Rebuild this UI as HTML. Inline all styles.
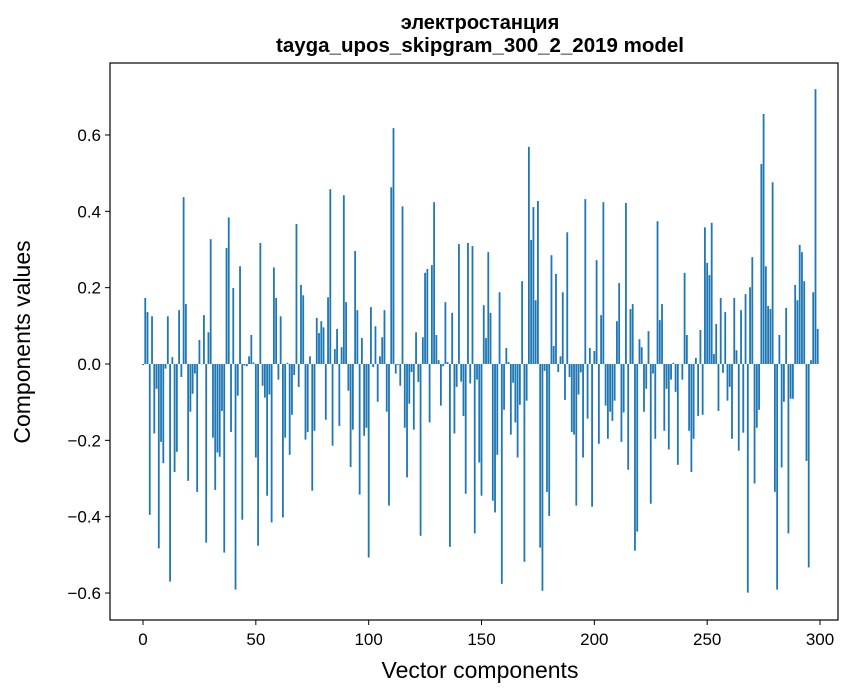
<!DOCTYPE html>
<html><head><meta charset="utf-8"><style>
body{margin:0;background:#fff;}
svg{display:block;font-family:"Liberation Sans","DejaVu Sans",sans-serif;}
</style></head><body>
<svg id="chart" width="867" height="696" viewBox="0 0 867 696" xmlns="http://www.w3.org/2000/svg">
<text x="480" y="29" text-anchor="middle" font-size="20" font-weight="bold">электростанция</text>
<text x="480" y="52" text-anchor="middle" font-size="20.5" font-weight="bold">tayga_upos_skipgram_300_2_2019 model</text>
<g id="bars"></g>
<g id="axes"></g>
<rect x="110" y="63" width="728" height="557" fill="none" stroke="#000" stroke-width="1.2"/>
<text x="480" y="678" text-anchor="middle" font-size="23">Vector components</text>
<text transform="translate(30,342) rotate(-90)" text-anchor="middle" font-size="23">Components values</text>
</svg>
<script>
const values = [-0.003,0.173,0.136,-0.395,0.125,-0.182,-0.065,-0.483,-0.204,-0.26,
-0.012,0.125,-0.57,0.018,-0.283,-0.23,0.141,-0.034,0.437,0.157,
-0.306,-0.125,-0.078,-0.025,-0.335,0.063,0.0,0.128,-0.468,0.083,
0.327,-0.193,-0.33,-0.232,-0.243,-0.123,-0.494,0.304,0.384,-0.178,
0.199,-0.591,-0.083,0.256,-0.408,-0.004,-0.006,0.02,0.076,0.004,
-0.245,-0.476,0.317,-0.057,-0.088,-0.345,-0.08,-0.415,0.253,0.173,
-0.041,0.125,-0.402,-0.193,0.003,-0.238,-0.133,-0.029,0.367,-0.06,
0.207,0.18,-0.198,-0.178,0.02,-0.332,-0.175,0.121,0.081,0.112,
0.096,-0.146,0.175,0.458,-0.214,0.039,0.092,-0.162,0.044,0.442,
0.162,-0.07,-0.27,-0.172,0.296,0.141,-0.342,0.068,-0.188,-0.167,
-0.507,0.149,-0.008,0.099,-0.099,0.02,0.07,0.141,-0.125,-0.371,
0.463,0.618,-0.025,-0.002,-0.057,0.413,-0.167,-0.297,-0.104,-0.021,
-0.172,0.083,-0.047,-0.45,0.07,0.239,0.249,-0.153,0.259,0.424,
0.076,0.01,-0.109,-0.006,0.162,0.005,-0.479,0.134,-0.182,-0.06,
0.314,-0.046,-0.136,-0.34,0.317,-0.051,0.309,-0.444,-0.041,-0.258,
-0.345,0.154,0.068,0.293,0.134,-0.358,-0.389,-0.238,0.188,-0.576,
-0.12,0.042,0.005,-0.185,-0.049,-0.153,-0.245,-0.107,0.217,-0.518,
-0.096,0.569,0.325,0.411,0.167,0.427,-0.481,-0.594,-0.018,-0.335,
-0.398,0.285,0.047,0.236,-0.021,0.02,0.188,-0.094,0.345,-0.034,
-0.178,-0.185,-0.371,-0.08,-0.022,-0.245,0.432,-0.143,0.042,-0.374,
0.034,0.272,-0.209,0.128,0.424,-0.109,-0.196,-0.125,-0.149,-0.096,
0.112,0.212,-0.204,-0.127,0.422,-0.277,0.144,0.157,-0.489,-0.439,
0.065,0.044,-0.125,-0.065,0.086,-0.366,-0.025,-0.196,0.374,0.115,
0.157,-0.175,-0.065,-0.224,-0.041,0.003,-0.073,-0.264,0.0,-0.041,
0.239,0.076,-0.175,-0.283,-0.196,0.016,-0.136,0.089,-0.133,0.358,
0.265,0.233,0.37,0.026,0.105,-0.123,0.173,-0.023,0.136,-0.096,
-0.06,-0.196,0.173,0.036,-0.227,0.141,-0.18,0.183,-0.599,0.201,
0.28,-0.313,-0.167,-0.12,0.524,0.655,0.256,0.152,0.144,0.476,
-0.335,-0.591,0.076,-0.271,-0.099,0.147,-0.444,-0.091,-0.091,0.207,
0.167,0.312,0.293,0.217,-0.254,-0.533,0.01,0.188,0.72,0.092];
const xTicks = [0,50,100,150,200,250,300];
const yTicks = [-0.6,-0.4,-0.2,0.0,0.2,0.4,0.6];
const yTickLabels = ["\u22120.6","\u22120.4","\u22120.2","0.0","0.2","0.4","0.6"];

const NS = "http://www.w3.org/2000/svg";
function xScale(v){ return 143 + v * 2.2567; }
function yScale(v){ return 364 - v * 381.7; }
const barsG = document.getElementById('bars');
values.forEach(function(v, i){
  const r = document.createElementNS(NS, 'rect');
  const x0 = xScale(i - 0.4), x1 = xScale(i + 0.4);
  const y0 = Math.min(yScale(v), yScale(0)), y1 = Math.max(yScale(v), yScale(0));
  r.setAttribute('x', x0);
  r.setAttribute('width', x1 - x0);
  r.setAttribute('y', y0);
  r.setAttribute('height', Math.max(y1 - y0, 0.3));
  r.setAttribute('fill', '#1f77b4');
  
  
  barsG.appendChild(r);
});
const axesG = document.getElementById('axes');
xTicks.forEach(function(t){
  const x = xScale(t);
  const l = document.createElementNS(NS, 'line');
  l.setAttribute('x1', x); l.setAttribute('x2', x);
  l.setAttribute('y1', 620); l.setAttribute('y2', 625);
  l.setAttribute('stroke', '#000');
  
  
  axesG.appendChild(l);
  const tx = document.createElementNS(NS, 'text');
  tx.setAttribute('x', x); tx.setAttribute('y', 645);
  tx.setAttribute('text-anchor', 'middle');
  tx.setAttribute('font-size', '17');
  tx.textContent = String(t);
  
  
  axesG.appendChild(tx);
});
yTicks.forEach(function(t, k){
  const y = yScale(t);
  const l = document.createElementNS(NS, 'line');
  l.setAttribute('x1', 105); l.setAttribute('x2', 110);
  l.setAttribute('y1', y); l.setAttribute('y2', y);
  l.setAttribute('stroke', '#000');
  
  
  axesG.appendChild(l);
  const tx = document.createElementNS(NS, 'text');
  tx.setAttribute('x', 101); tx.setAttribute('y', y + 6);
  tx.setAttribute('text-anchor', 'end');
  tx.setAttribute('font-size', '17');
  tx.textContent = yTickLabels[k];
  
  
  axesG.appendChild(tx);
});
</script>
</body></html>
